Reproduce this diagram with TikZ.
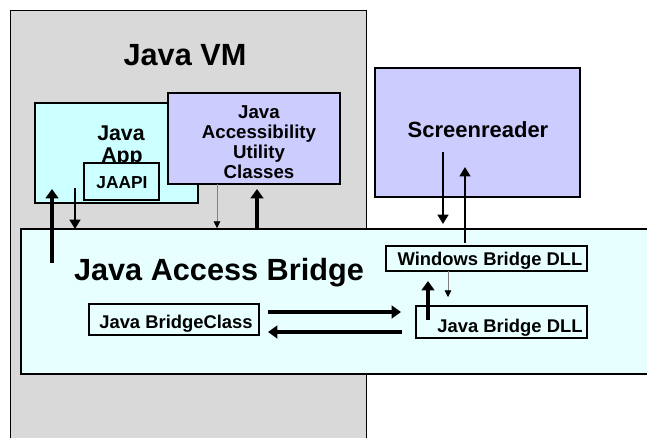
\documentclass[tikz,border=0pt]{standalone}
\usepackage{fontspec}
\setmainfont{Liberation Sans}
\usetikzlibrary{arrows.meta,fit}
\definecolor{vmgray}{HTML}{D9D9D9}
\definecolor{appcyan}{HTML}{CCFFFF}
\definecolor{bridgecyan}{HTML}{E8FFFF}
\definecolor{lavender}{HTML}{CCCCFF}
\begin{document}
\begin{tikzpicture}[x=0.75pt,y=-0.75pt,
  thinbox/.style={draw=black,line width=1.1pt,inner sep=0pt},
  thickbox/.style={draw=black,line width=2.2pt,inner sep=0pt},
  lbl/.style={font=\bfseries,inner sep=0pt,anchor=base,align=center},
  thickarrow/.style={line width=2.3pt,-{Triangle[length=7pt,width=9.5pt]}},
  midarrow/.style={line width=1.7pt,-{Triangle[length=7pt,width=8pt]}},
  thinarrow/.style={draw=gray,line width=0.5pt,-{Triangle[length=5pt,width=5pt,color=black]}}]
\clip (0,0) rectangle (647,437);
\fill[white] (0,0) rectangle (647,437);
% Java VM
\node[fit={(10,10) (366,450)},draw=black,line width=0.6pt,fill=vmgray,inner sep=0pt] (vm) {};
\node[lbl,font=\bfseries\fontsize{23}{26}\selectfont] (vmtxt) at (185,65) {Java VM};
% Java App
\node[fit={(35,103) (198,203)},thickbox,fill=appcyan] (app) {};
\node[lbl,font=\bfseries\fontsize{16}{18}\selectfont] (apptxt1) at (121,140) {Java};
\node[lbl,font=\bfseries\fontsize{16}{18}\selectfont] (apptxt2) at (122,162) {App};
% JAAPI
\node[fit={(84,163) (159,200)},thickbox,fill=appcyan] (jaapi) {};
\node[lbl,font=\bfseries\fontsize{13}{15}\selectfont] (jaapitxt) at (122,188) {JAAPI};
% Utility classes
\node[fit={(168,93) (340,184)},thinbox,fill=lavender] (util) {};
\node[lbl,font=\bfseries\fontsize{14}{15}\selectfont] (ut1) at (259,118) {Java};
\node[lbl,font=\bfseries\fontsize{14}{15}\selectfont] (ut2) at (259,138) {Accessibility};
\node[lbl,font=\bfseries\fontsize{14}{15}\selectfont] (ut3) at (259,158) {Utility};
\node[lbl,font=\bfseries\fontsize{14}{15}\selectfont] (ut4) at (259,178) {Classes};
% Screenreader
\node[fit={(375,68) (580,197)},thickbox,fill=lavender] (sr) {};
\node[lbl,font=\bfseries\fontsize{16.5}{18}\selectfont] (srtxt) at (478,137) {Screenreader};
% Java Access Bridge
\node[fit={(21,229) (680,374)},thickbox,fill=bridgecyan] (jab) {};
\node[lbl,font=\bfseries\fontsize{23}{26}\selectfont] (jabtxt) at (219,280) {Java Access Bridge};
% Windows Bridge DLL
\node[fit={(386,246) (587,271)},thinbox,fill=bridgecyan] (wdll) {};
\node[lbl,font=\bfseries\fontsize{13.8}{15}\selectfont] (wdlltxt) at (490,265) {Windows Bridge DLL};
% Java Bridge DLL
\node[fit={(416,306) (587,338)},thinbox,fill=bridgecyan] (jdll) {};
\node[lbl,font=\bfseries\fontsize{13.8}{15}\selectfont] (jdlltxt) at (510,332) {Java Bridge DLL};
% Java BridgeClass
\node[fit={(89,304) (259,335)},thinbox,fill=bridgecyan] (jbc) {};
\node[lbl,font=\bfseries\fontsize{13.8}{15}\selectfont] (jbctxt) at (176,328) {Java BridgeClass};
% connector end points
\coordinate (a1s) at (52,263);   \coordinate (a1e) at (52,189);
\coordinate (a2s) at (75,188);   \coordinate (a2e) at (75,229);
\coordinate (a3s) at (217,184);  \coordinate (a3e) at (217,228);
\coordinate (a4s) at (257,229);  \coordinate (a4e) at (257,189);
\coordinate (a5s) at (443,152);  \coordinate (a5e) at (443,224);
\coordinate (a6s) at (465,243);  \coordinate (a6e) at (465,167);
\coordinate (a7s) at (448,271);  \coordinate (a7e) at (448,297);
\coordinate (a8s) at (428,320);  \coordinate (a8e) at (428,281);
\coordinate (a9s) at (268,312);  \coordinate (a9e) at (401,312);
\coordinate (a10s) at (402,332); \coordinate (a10e) at (268,332);
\draw[thickarrow] (a1s) -- (a1e);
\draw[midarrow] (a2s) -- (a2e);
\draw[thinarrow] (a3s) -- (a3e);
\draw[thickarrow] (a4s) -- (a4e);
\draw[midarrow] (a5s) -- (a5e);
\draw[midarrow] (a6s) -- (a6e);
\draw[thinarrow] (a7s) -- (a7e);
\draw[thickarrow,line width=2.8pt] (a8s) -- (a8e);
\draw[thickarrow] (a9s) -- (a9e);
\draw[thickarrow] (a10s) -- (a10e);
\end{tikzpicture}
\end{document}
